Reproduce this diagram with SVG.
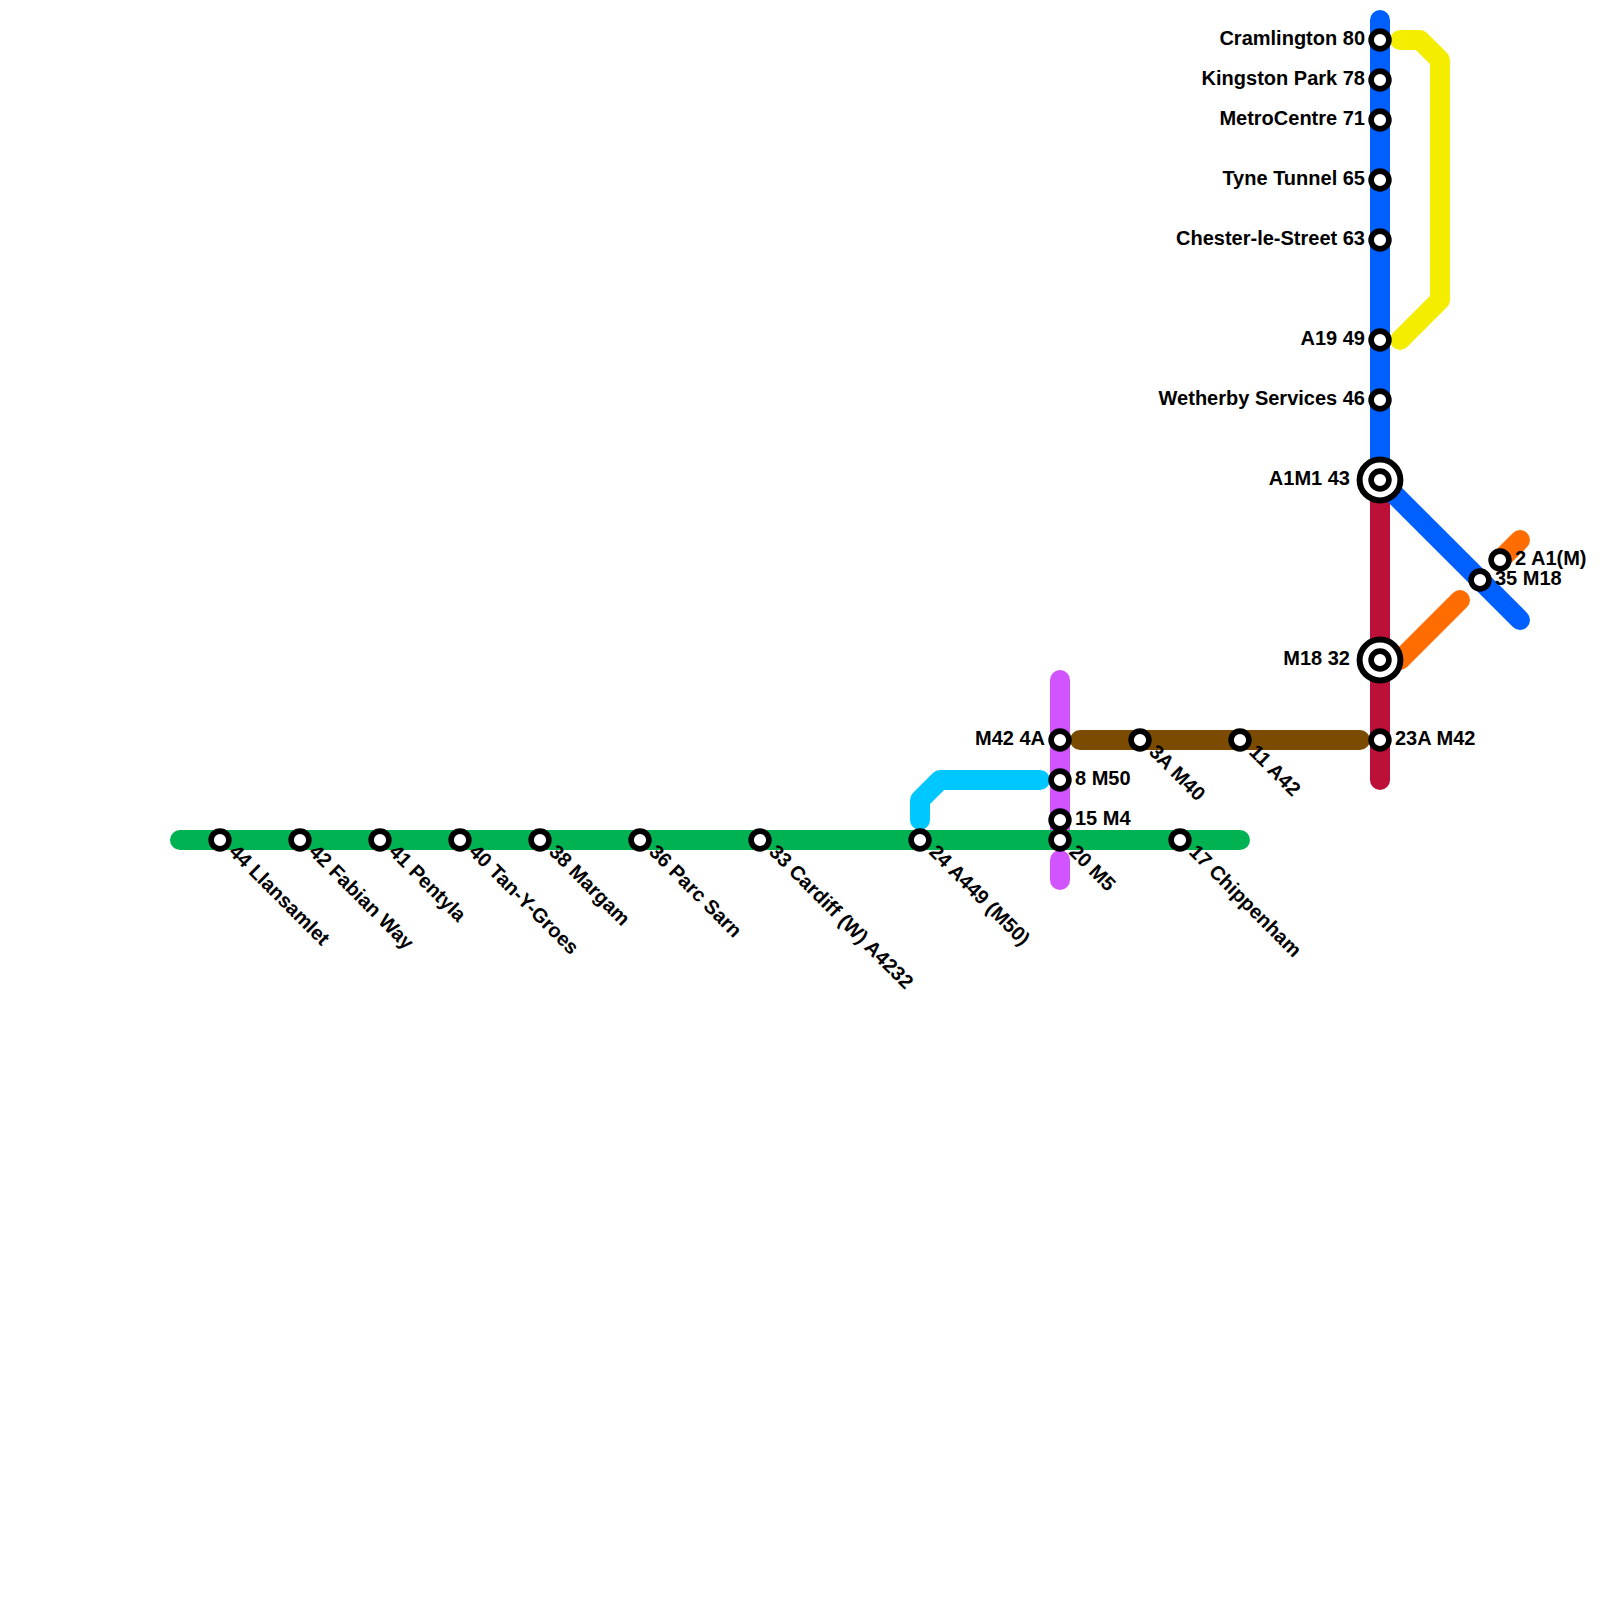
<svg xmlns="http://www.w3.org/2000/svg" width="1600" height="1600" viewBox="0 0 1600 1600">
<style>
.l{fill:none;stroke-width:20;stroke-linecap:round;stroke-linejoin:round}
.s{fill:#fff;stroke:#000;stroke-width:5.6}
.o{fill:#fff;stroke:#000;stroke-width:6}
text{font-family:"Liberation Sans",Arial,sans-serif;font-weight:700;font-size:20px;fill:#000}
.e{text-anchor:end}
</style>
<rect width="1600" height="1600" fill="#fff"/>
<g id="connectors">
<path class="l" stroke="#d154ff" d="M1060 680V830M1060 860V880"/>
<path class="l" stroke="#00b251" d="M180 840H1240"/>
<path class="l" stroke="#00c7ff" d="M920 820V800L940 780H1040"/>
<path class="l" stroke="#7a4b00" d="M1080 740H1360"/>
<path class="l" stroke="#bd1038" d="M1380 480V780"/>
<path class="l" stroke="#ff6c00" d="M1400 660L1460 600M1500 560L1520 540"/>
<path class="l" stroke="#f5ed00" d="M1400 40H1420L1440 60V300L1400 340"/>
<path class="l" stroke="#0060ff" d="M1380 20V480L1520 620"/>
</g>
<g id="n44"><circle class="s" cx="220" cy="840" r="8.9"/><text transform="translate(228 853) rotate(45)">44 Llansamlet</text></g>
<g id="n42"><circle class="s" cx="300" cy="840" r="8.9"/><text transform="translate(308 853) rotate(45)">42 Fabian Way</text></g>
<g id="n41"><circle class="s" cx="380" cy="840" r="8.9"/><text transform="translate(388 853) rotate(45)">41 Pentyla</text></g>
<g id="n40"><circle class="s" cx="460" cy="840" r="8.9"/><text transform="translate(468 853) rotate(45)">40 Tan-Y-Groes</text></g>
<g id="n38"><circle class="s" cx="540" cy="840" r="8.9"/><text transform="translate(548 853) rotate(45)">38 Margam</text></g>
<g id="n36"><circle class="s" cx="640" cy="840" r="8.9"/><text transform="translate(648 853) rotate(45)">36 Parc Sarn</text></g>
<g id="n33"><circle class="s" cx="760" cy="840" r="8.9"/><text transform="translate(768 853) rotate(45)">33 Cardiff (W) A4232</text></g>
<g id="n24"><circle class="s" cx="920" cy="840" r="8.9"/><text transform="translate(928 853) rotate(45)">24 A449 (M50)</text></g>
<g id="n20"><circle class="s" cx="1060" cy="840" r="8.9"/><text transform="translate(1068 853) rotate(45)">20 M5</text></g>
<g id="n17"><circle class="s" cx="1180" cy="840" r="8.9"/><text transform="translate(1188 853) rotate(45)">17 Chippenham</text></g>
<g id="n15"><circle class="s" cx="1060" cy="820" r="8.9"/><text x="1075" y="825">15 M4</text></g>
<g id="n8"><circle class="s" cx="1060" cy="780" r="8.9"/><text x="1075" y="785">8 M50</text></g>
<g id="n4a"><circle class="s" cx="1060" cy="740" r="8.9"/><text class="e" x="1045" y="745">M42 4A</text></g>
<g id="n3a"><circle class="s" cx="1140" cy="740" r="8.9"/><text transform="translate(1148 753) rotate(45)">3A M40</text></g>
<g id="n11"><circle class="s" cx="1240" cy="740" r="8.9"/><text transform="translate(1248 753) rotate(45)">11 A42</text></g>
<g id="n23a"><circle class="s" cx="1380" cy="740" r="8.9"/><text x="1395" y="745">23A M42</text></g>
<g id="n80"><circle class="s" cx="1380" cy="40" r="8.9"/><text class="e" x="1365" y="45">Cramlington 80</text></g>
<g id="n78"><circle class="s" cx="1380" cy="80" r="8.9"/><text class="e" x="1365" y="85">Kingston Park 78</text></g>
<g id="n71"><circle class="s" cx="1380" cy="120" r="8.9"/><text class="e" x="1365" y="125">MetroCentre 71</text></g>
<g id="n65"><circle class="s" cx="1380" cy="180" r="8.9"/><text class="e" x="1365" y="185">Tyne Tunnel 65</text></g>
<g id="n63"><circle class="s" cx="1380" cy="240" r="8.9"/><text class="e" x="1365" y="245">Chester-le-Street 63</text></g>
<g id="n49"><circle class="s" cx="1380" cy="340" r="8.9"/><text class="e" x="1365" y="345">A19 49</text></g>
<g id="n46"><circle class="s" cx="1380" cy="400" r="8.9"/><text class="e" x="1365" y="405">Wetherby Services 46</text></g>
<g id="a1m1"><circle class="o" cx="1380" cy="480" r="20.4"/><circle class="s" cx="1380" cy="480" r="8.9"/><text class="e" x="1350" y="485">A1M1 43</text></g>
<g id="m18"><circle class="o" cx="1380" cy="660" r="20.4"/><circle class="s" cx="1380" cy="660" r="8.9"/><text class="e" x="1350" y="665">M18 32</text></g>
<g id="n35"><circle class="s" cx="1480" cy="580" r="8.9"/><text x="1495" y="585">35 M18</text></g>
<g id="n2"><circle class="s" cx="1500" cy="560" r="8.9"/><text x="1515" y="565">2 A1(M)</text></g>
</svg>
